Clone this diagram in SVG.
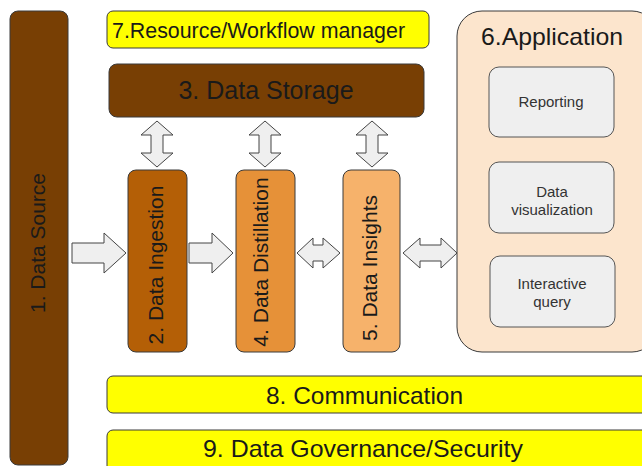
<svg xmlns="http://www.w3.org/2000/svg" width="642" height="466" viewBox="0 0 642 466">
<style>
  .box { stroke: #3a3a3a; stroke-width: 1; }
  .t { font-family: "Liberation Sans", Arial, sans-serif; fill: #1a1a1a; }
  .arrow { fill: #efefef; stroke: #444; stroke-width: 1; stroke-linejoin: miter; }
  .sub { fill: #efefef; stroke: #555; stroke-width: 1; }
  .st { font-family: "Liberation Sans", Arial, sans-serif; fill: #333; font-size: 15px; text-anchor: middle; }
</style>
<rect width="642" height="466" fill="#ffffff"/>

<g id="n1-data-source">
  <rect class="box" x="10" y="11" width="58" height="454" rx="8" fill="#783f04"/>
  <text class="t" font-size="21" text-anchor="middle" transform="translate(45,243) rotate(-90)">1. Data Source</text>
</g>

<g id="n7-resource-manager">
  <rect class="box" x="107" y="11" width="322" height="37" rx="6" fill="#ffff00"/>
  <text class="t" font-size="22" x="112" y="38" textLength="293" lengthAdjust="spacingAndGlyphs">7.Resource/Workflow manager</text>
</g>

<g id="n3-data-storage">
  <rect class="box" x="109" y="64" width="315" height="53" rx="8" fill="#783f04"/>
  <text class="t" font-size="25" text-anchor="middle" x="266" y="99">3. Data Storage</text>
</g>

<g id="n2-data-ingestion">
  <rect class="box" x="128" y="170" width="59" height="182" rx="8" fill="#b45f06"/>
  <text class="t" font-size="21" text-anchor="middle" transform="translate(163,265) rotate(-90)">2. Data Ingestion</text>
</g>

<g id="n4-data-distillation">
  <rect class="box" x="236" y="170" width="59" height="182" rx="8" fill="#e69138"/>
  <text class="t" font-size="21" text-anchor="middle" transform="translate(268,262) rotate(-90)">4. Data Distillation</text>
</g>

<g id="n5-data-insights">
  <rect class="box" x="343" y="170" width="57" height="182" rx="8" fill="#f6b26b"/>
  <text class="t" font-size="21" text-anchor="middle" transform="translate(377,268) rotate(-90)">5. Data Insights</text>
</g>

<g id="n6-application">
  <rect class="box" x="457" y="11" width="200" height="341" rx="25" fill="#fce5cd"/>
  <text class="t" font-size="24" x="481" y="45" textLength="142" lengthAdjust="spacingAndGlyphs">6.Application</text>
  <g id="n6a-reporting">
    <rect class="sub" x="489" y="67" width="125" height="70" rx="10"/>
    <text class="st" x="551" y="107">Reporting</text>
  </g>
  <g id="n6b-data-visualization">
    <rect class="sub" x="489" y="162" width="125" height="71" rx="10"/>
    <text class="st" x="552" y="197">Data</text>
    <text class="st" x="552" y="215">visualization</text>
  </g>
  <g id="n6c-interactive-query">
    <rect class="sub" x="490" y="256" width="125" height="71" rx="10"/>
    <text class="st" x="552" y="289">Interactive</text>
    <text class="st" x="552" y="307">query</text>
  </g>
</g>

<g id="n8-communication">
  <rect class="box" x="107" y="376" width="545" height="37" rx="6" fill="#ffff00"/>
  <text class="t" font-size="24" x="266" y="404" textLength="197" lengthAdjust="spacingAndGlyphs">8. Communication</text>
</g>

<g id="n9-data-governance">
  <rect class="box" x="107" y="430" width="545" height="45" rx="6" fill="#ffff00"/>
  <text class="t" font-size="24" x="203" y="457" textLength="320" lengthAdjust="spacingAndGlyphs">9. Data Governance/Security</text>
</g>

<g id="connectors">
  <path class="arrow" d="M157,121 L173,135 L163,135 L163,153 L173,153 L157,167 L141,153 L151,153 L151,135 L141,135 Z"/>
  <path class="arrow" d="M265,121 L281,135 L271,135 L271,153 L281,153 L265,167 L249,153 L259,153 L259,135 L249,135 Z"/>
  <path class="arrow" d="M372,121 L388,135 L378,135 L378,153 L388,153 L372,167 L356,153 L366,153 L366,135 L356,135 Z"/>
  <path class="arrow" d="M72,243 L104,243 L104,233 L126,253 L104,273 L104,263 L72,263 Z"/>
  <path class="arrow" d="M189,243 L212,243 L212,233 L233,253 L212,273 L212,263 L189,263 Z"/>
  <path class="arrow" d="M297,253 L313,238 L313,245 L323,245 L323,238 L340,253 L323,268 L323,261 L313,261 L313,268 Z"/>
  <path class="arrow" d="M403,253 L420,238 L420,245 L441,245 L441,238 L457,253 L441,268 L441,261 L420,261 L420,268 Z"/>
</g>
</svg>
